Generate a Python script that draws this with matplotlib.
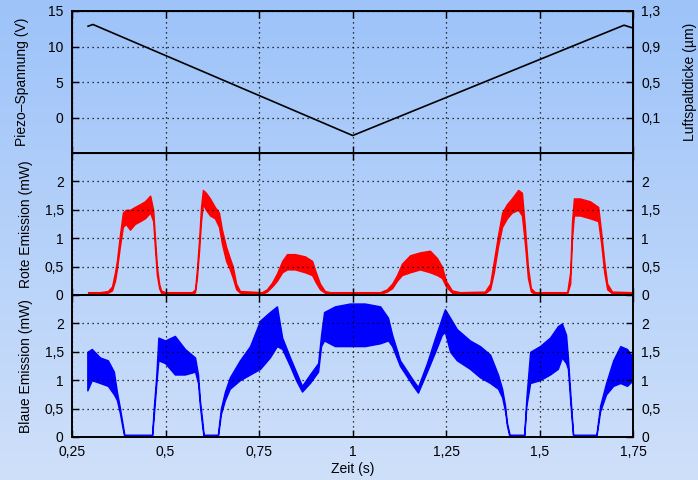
import numpy as np
import matplotlib
matplotlib.use("Agg")
import matplotlib.pyplot as plt

plt.rcParams['font.family'] = ['Liberation Sans', 'DejaVu Sans']
plt.rcParams['font.size'] = 10

# Piezo voltage (V)
piezo_t = [0.293, 0.306, 1.0005, 1.726, 1.750]
piezo_v = [12.86, 13.1, -2.54, 13.0, 12.6]

# red emission (mW): time, lower and upper envelope of the noisy trace
red_t = [0.293, 0.325, 0.346, 0.357, 0.365, 0.370, 0.378, 0.386, 0.394, 0.405,
         0.418, 0.432, 0.445, 0.459, 0.467, 0.472, 0.477, 0.483, 0.488, 0.499,
         0.571, 0.579, 0.584, 0.590, 0.595, 0.600, 0.608, 0.619, 0.632, 0.643,
         0.651, 0.662, 0.672, 0.680, 0.689, 0.699, 0.758, 0.771, 0.785, 0.798,
         0.812, 0.825, 0.846, 0.873, 0.892, 0.902, 0.913, 0.926, 0.940, 1.074,
         1.092, 1.106, 1.119, 1.132, 1.154, 1.180, 1.207, 1.226, 1.239, 1.250,
         1.266, 1.287, 1.354, 1.368, 1.378, 1.389, 1.400, 1.413, 1.426, 1.443,
         1.453, 1.461, 1.469, 1.477, 1.488, 1.574, 1.582, 1.587, 1.592, 1.608,
         1.635, 1.657, 1.665, 1.673, 1.681, 1.694, 1.747]
red_lo = [0.02, 0.02, 0.04, 0.08, 0.25, 0.45, 0.85, 1.2, 1.25, 1.15,
          1.25, 1.3, 1.35, 1.45, 1.3, 0.8, 0.35, 0.12, 0.04, 0.02,
          0.02, 0.05, 0.3, 0.8, 1.3, 1.6, 1.5, 1.4, 1.35, 1.2,
          0.9, 0.6, 0.45, 0.3, 0.1, 0.04, 0.02, 0.06, 0.15, 0.25,
          0.4, 0.45, 0.45, 0.4, 0.35, 0.22, 0.1, 0.04, 0.02, 0.02,
          0.06, 0.12, 0.25, 0.35, 0.4, 0.45, 0.4, 0.35, 0.3, 0.15,
          0.04, 0.02, 0.03, 0.1, 0.4, 0.85, 1.2, 1.35, 1.45, 1.5,
          1.4, 0.9, 0.3, 0.06, 0.02, 0.02, 0.2, 1.0, 1.4, 1.4,
          1.35, 1.3, 0.9, 0.4, 0.1, 0.03, 0.02]
red_hi = [0.05, 0.05, 0.07, 0.15, 0.4, 0.6, 1.05, 1.45, 1.5, 1.5,
          1.55, 1.6, 1.65, 1.75, 1.5, 1.0, 0.5, 0.2, 0.08, 0.05,
          0.05, 0.1, 0.45, 1.0, 1.55, 1.85, 1.8, 1.7, 1.55, 1.45,
          1.15, 0.85, 0.65, 0.5, 0.2, 0.07, 0.05, 0.1, 0.22, 0.38,
          0.6, 0.72, 0.72, 0.68, 0.6, 0.4, 0.2, 0.07, 0.05, 0.05,
          0.1, 0.2, 0.35, 0.55, 0.7, 0.75, 0.78, 0.65, 0.5, 0.25,
          0.08, 0.05, 0.06, 0.2, 0.6, 1.05, 1.45, 1.6, 1.7, 1.85,
          1.8, 1.2, 0.5, 0.12, 0.05, 0.05, 0.4, 1.3, 1.7, 1.7,
          1.65, 1.55, 1.1, 0.6, 0.2, 0.06, 0.05]

# blue emission (mW): time, lower and upper envelope
blue_t = [0.291, 0.303, 0.325, 0.346, 0.362, 0.370, 0.378, 0.384, 0.390, 0.464,
          0.469, 0.475, 0.481, 0.499, 0.525, 0.552, 0.579, 0.587, 0.592, 0.598,
          0.602, 0.640, 0.648, 0.659, 0.672, 0.699, 0.726, 0.753, 0.779, 0.798,
          0.812, 0.833, 0.849, 0.865, 0.886, 0.908, 0.916, 0.924, 0.953, 0.993,
          1.033, 1.074, 1.095, 1.106, 1.127, 1.162, 1.175, 1.199, 1.221, 1.239,
          1.247, 1.261, 1.279, 1.314, 1.341, 1.368, 1.389, 1.400, 1.408, 1.413,
          1.420, 1.459, 1.465, 1.475, 1.501, 1.528, 1.549, 1.560, 1.571, 1.576,
          1.583, 1.590, 1.652, 1.662, 1.678, 1.697, 1.716, 1.734, 1.750]
blue_lo = [0.82, 1.0, 0.95, 0.9, 0.75, 0.65, 0.42, 0.2, 0.0, 0.0,
           0.4, 0.9, 1.35, 1.3, 1.1, 1.1, 1.15, 0.95, 0.55, 0.2,
           0.0, 0.0, 0.4, 0.65, 0.85, 1.0, 1.1, 1.2, 1.4, 1.6,
           1.55, 1.25, 1.0, 0.8, 0.95, 1.15, 1.6, 1.7, 1.6, 1.6,
           1.6, 1.65, 1.7, 1.6, 1.25, 0.9, 0.78, 1.15, 1.5, 1.8,
           1.85, 1.5, 1.35, 1.2, 1.05, 0.95, 0.85, 0.7, 0.45, 0.2,
           0.0, 0.0, 0.55, 0.95, 1.0, 1.1, 1.2, 1.4, 1.3, 1.2,
           0.55, 0.0, 0.0, 0.45, 0.75, 0.9, 0.95, 0.9, 1.0]
blue_hi = [1.5, 1.55, 1.4, 1.35, 1.15, 0.8, 0.52, 0.28, 0.04, 0.04,
           0.55, 1.05, 1.75, 1.7, 1.78, 1.55, 1.4, 1.1, 0.65, 0.3,
           0.04, 0.04, 0.5, 0.8, 1.05, 1.35, 1.6, 2.05, 2.2, 2.3,
           1.75, 1.4, 1.15, 0.9, 1.1, 1.3, 1.8, 2.2, 2.3, 2.35,
           2.35, 2.3, 2.1, 1.8, 1.35, 1.0, 0.88, 1.3, 1.75, 2.1,
           2.25, 2.1, 1.9, 1.7, 1.6, 1.45, 1.1, 0.85, 0.55, 0.25,
           0.04, 0.04, 0.7, 1.5, 1.6, 1.75, 1.95, 2.0, 1.8, 1.4,
           0.7, 0.04, 0.04, 0.55, 0.95, 1.35, 1.6, 1.55, 1.4]

x_ticks = [0.25, 0.5, 0.75, 1.0, 1.25, 1.5, 1.75]
x_labels = ['0,25', '0,5', '0,75', '1', '1,25', '1,5', '1,75']
piezo_ticks = [0, 5, 10, 15]
gap_ticks = [0.1, 0.5, 0.9, 1.3]
gap_labels = ['0,1', '0,5', '0,9', '1,3']
em_ticks = [0, 0.5, 1, 1.5, 2]
em_labels = ['0', '0,5', '1', '1,5', '2']

fig = plt.figure(figsize=(6.98, 4.8), dpi=100)

# background gradient
bg = fig.add_axes([0, 0, 1, 1], zorder=-10)
grad = np.linspace(0, 1, 256).reshape(-1, 1)
cmap = matplotlib.colors.LinearSegmentedColormap.from_list('bg', ['#9dc3f9', '#cfe0fa'])
bg.imshow(grad, aspect='auto', cmap=cmap, extent=[0, 1, 0, 1], origin='upper')
bg.axis('off')

left, right = 72 / 698, 633 / 698
h = 142 / 480
bottoms = [1 - 153 / 480, 1 - 295 / 480, 1 - 437 / 480]
axes = [fig.add_axes([left, b, right - left, h]) for b in bottoms]


def style(ax):
    ax.set_facecolor('none')
    ax.set_xlim(0.25, 1.75)
    ax.set_xticks(x_ticks)
    ax.grid(True, color='black', linestyle=(0, (1, 3)), linewidth=0.9)
    for s in ax.spines.values():
        s.set_linewidth(1.4)
    ax.tick_params(direction='in', top=True, right=True, length=5, width=1, pad=6)


# top: piezo voltage
ax = axes[0]
style(ax)
ax.plot(piezo_t, piezo_v, color='black', lw=1.2)
ax.set_ylim(-5, 15)
ax.set_yticks(piezo_ticks)
ax.set_xticklabels([])
ax.set_ylabel('Piezo–Spannung (V)', labelpad=14)
ax2 = ax.twinx()
ax2.set_ylim(-0.3, 1.3)
ax2.set_yticks(gap_ticks)
ax2.set_yticklabels(gap_labels)
ax2.tick_params(direction='in', length=5, width=1, pad=6)
ax2.set_ylabel('Luftspaltdicke (µm)', labelpad=16)

# middle: red emission
ax = axes[1]
style(ax)
ax.fill_between(red_t, red_lo, red_hi, color='red', edgecolor='red', lw=1.0)
ax.set_ylim(0, 2.5)
ax.set_yticks(em_ticks)
ax.set_yticklabels(em_labels)
ax.tick_params(labelright=True)
ax.set_xticklabels([])
ax.set_ylabel('Rote Emission (mW)', labelpad=8)

# bottom: blue emission
ax = axes[2]
style(ax)
ax.fill_between(blue_t, blue_lo, blue_hi, color='blue', edgecolor='blue', lw=1.0)
ax.set_ylim(0, 2.5)
ax.set_yticks(em_ticks)
ax.set_yticklabels(em_labels)
ax.tick_params(labelright=True)
ax.set_xticklabels(x_labels)
ax.set_xlabel('Zeit (s)', labelpad=2)
ax.set_ylabel('Blaue Emission (mW)', labelpad=8)

fig.savefig('out.png', dpi=100)
